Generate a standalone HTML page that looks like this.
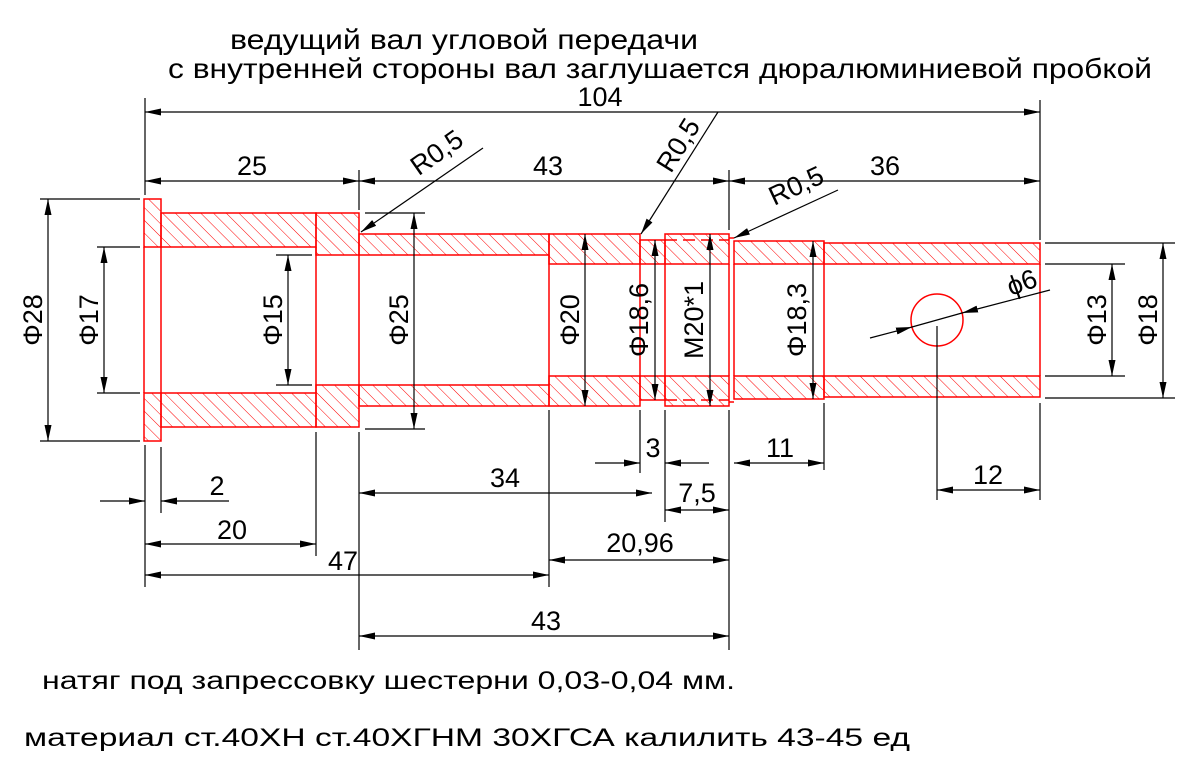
<!DOCTYPE html>
<html><head><meta charset="utf-8"><style>html,body{margin:0;padding:0;background:#fff}svg{display:block}</style></head>
<body>
<svg width="1203" height="763" viewBox="0 0 1203 763" xmlns="http://www.w3.org/2000/svg">
<defs>
<pattern id="h" width="9" height="9" patternUnits="userSpaceOnUse" patternTransform="rotate(-45)">
<line x1="0" y1="0" x2="0" y2="9" stroke="#f00" stroke-width="1"/>
</pattern>
<marker id="a" viewBox="0 0 16 7" refX="16" refY="3.5" markerWidth="16" markerHeight="7" markerUnits="userSpaceOnUse" orient="auto-start-reverse"><path d="M0,0L16,3.5L0,7z" fill="#000"/></marker>
</defs>
<g font-family="Liberation Sans, sans-serif" fill="#000">
<text x="230" y="49" font-size="28" textLength="468" lengthAdjust="spacingAndGlyphs">ведущий вал угловой передачи</text>
<text x="168" y="78" font-size="28" textLength="984" lengthAdjust="spacingAndGlyphs">с внутренней стороны вал заглушается дюралюминиевой пробкой</text>
<text x="42" y="689" font-size="25" textLength="693" lengthAdjust="spacingAndGlyphs">натяг под запрессовку шестерни  0,03-0,04 мм.</text>
<text x="24" y="746" font-size="25" textLength="886" lengthAdjust="spacingAndGlyphs">материал  ст.40ХН  ст.40ХГНМ  30ХГСА  калилить 43-45 ед</text>
</g>
<g stroke="#f00" stroke-width="1.5" fill="url(#h)">
<rect x="144" y="199" width="17" height="48"/><rect x="144" y="393" width="17" height="48"/>
<rect x="161" y="213" width="155" height="34"/><rect x="161" y="393" width="155" height="34"/>
<rect x="316" y="213" width="43" height="42"/><rect x="316" y="385" width="43" height="42"/>
<rect x="359" y="234" width="190" height="21"/><rect x="359" y="385" width="190" height="21"/>
<rect x="549" y="234" width="91" height="30"/><rect x="549" y="376" width="91" height="30"/>
<rect x="640" y="240" width="25" height="24"/><rect x="640" y="376" width="25" height="24"/>
<rect x="665" y="234" width="64" height="30"/><rect x="665" y="376" width="64" height="30"/>
<rect x="734" y="241" width="90" height="23"/><rect x="734" y="376" width="90" height="23"/>
<rect x="824" y="243" width="216" height="21"/><rect x="824" y="376" width="216" height="21"/>
</g>
<g stroke="#f00" stroke-width="1.5" fill="none">
<line x1="144" y1="247" x2="144" y2="393"/><line x1="161" y1="247" x2="161" y2="393"/>
<line x1="316" y1="247" x2="316" y2="393"/><line x1="359" y1="255" x2="359" y2="385"/>
<line x1="549" y1="255" x2="549" y2="385"/><line x1="640" y1="264" x2="640" y2="376"/>
<line x1="665" y1="264" x2="665" y2="376"/><line x1="729" y1="264" x2="729" y2="376"/>
<line x1="734" y1="264" x2="734" y2="376"/><line x1="824" y1="264" x2="824" y2="376"/>
<line x1="1040" y1="264" x2="1040" y2="376"/>
<line x1="729" y1="238" x2="734" y2="238"/><line x1="729" y1="402" x2="734" y2="402"/>
<line x1="665" y1="240" x2="729" y2="240" stroke-dasharray="12,6"/><line x1="665" y1="400" x2="729" y2="400" stroke-dasharray="12,6"/>
<circle cx="937" cy="320" r="26"/>
</g>
<g stroke="#000" stroke-width="1.2">
<line x1="145" y1="98" x2="145" y2="195"/><line x1="1040" y1="100" x2="1040" y2="240"/>
<line x1="359" y1="170" x2="359" y2="210"/><line x1="729" y1="170" x2="729" y2="230"/>
<line x1="40" y1="199" x2="140" y2="199"/><line x1="40" y1="441" x2="140" y2="441"/>
<line x1="97" y1="247" x2="140" y2="247"/><line x1="97" y1="393" x2="140" y2="393"/>
<line x1="276" y1="255" x2="312" y2="255"/><line x1="276" y1="385" x2="312" y2="385"/>
<line x1="365" y1="213" x2="425" y2="213"/><line x1="365" y1="429" x2="425" y2="429"/>
<line x1="1045" y1="264" x2="1125" y2="264"/><line x1="1045" y1="376" x2="1125" y2="376"/>
<line x1="1045" y1="243" x2="1175" y2="243"/><line x1="1045" y1="398" x2="1175" y2="398"/>
<line x1="145" y1="445" x2="145" y2="587"/><line x1="161" y1="447" x2="161" y2="513"/>
<line x1="316" y1="432" x2="316" y2="556"/><line x1="359" y1="432" x2="359" y2="650"/>
<line x1="549" y1="410" x2="549" y2="587"/><line x1="640" y1="410" x2="640" y2="473"/>
<line x1="665" y1="410" x2="665" y2="522"/><line x1="729" y1="410" x2="729" y2="650"/>
<line x1="824" y1="403" x2="824" y2="470"/><line x1="937" y1="326" x2="937" y2="500"/>
<line x1="1040" y1="403" x2="1040" y2="500"/>
</g>
<g stroke="#000" stroke-width="1.2" marker-start="url(#a)" marker-end="url(#a)">
<line x1="145" y1="112" x2="1040" y2="112"/>
<line x1="145" y1="181" x2="359" y2="181"/><line x1="359" y1="181" x2="729" y2="181"/><line x1="729" y1="181" x2="1040" y2="181"/>
<line x1="48" y1="199" x2="48" y2="441"/><line x1="104" y1="247" x2="104" y2="393"/>
<line x1="288" y1="255" x2="288" y2="385"/><line x1="414" y1="213" x2="414" y2="429"/>
<line x1="585" y1="234" x2="585" y2="406"/><line x1="655" y1="240" x2="655" y2="400"/>
<line x1="710" y1="234" x2="710" y2="406"/><line x1="813" y1="241" x2="813" y2="399"/>
<line x1="1112" y1="264" x2="1112" y2="376"/><line x1="1163" y1="243" x2="1163" y2="398"/>
<line x1="145" y1="544" x2="316" y2="544"/><line x1="145" y1="575" x2="549" y2="575"/>
<line x1="359" y1="493" x2="652" y2="493"/><line x1="665" y1="510" x2="729" y2="510"/>
<line x1="549" y1="560" x2="729" y2="560"/><line x1="359" y1="636" x2="729" y2="636"/>
<line x1="734" y1="463" x2="824" y2="463"/><line x1="937" y1="490" x2="1040" y2="490"/>
</g>
<g stroke="#000" stroke-width="1.2" marker-end="url(#a)">
<line x1="100" y1="501" x2="145" y2="501"/><line x1="229" y1="501" x2="161" y2="501"/>
<line x1="595" y1="463" x2="640" y2="463"/><line x1="709" y1="463" x2="665" y2="463"/>
<line x1="483" y1="148" x2="361" y2="232"/><line x1="718" y1="112" x2="641" y2="234"/>
<line x1="838" y1="190" x2="734" y2="238"/>
<line x1="870" y1="338" x2="912" y2="327"/><line x1="1050" y1="290" x2="962" y2="313"/>
</g>
<line x1="912" y1="327" x2="962" y2="313" stroke="#000" stroke-width="1.2"/>
<g font-family="Liberation Sans, sans-serif" font-size="27" fill="#000" text-anchor="middle">
<text x="600" y="106">104</text>
<text x="252" y="175">25</text><text x="548" y="175">43</text><text x="885" y="175">36</text>
<text x="217" y="495">2</text><text x="232" y="539">20</text><text x="343" y="570">47</text>
<text x="505" y="487">34</text><text x="653" y="457">3</text><text x="697" y="502">7,5</text>
<text x="640" y="552">20,96</text><text x="546" y="630">43</text>
<text x="780" y="457">11</text><text x="988" y="484">12</text>
<text transform="translate(42,320) rotate(-90)">Φ28</text>
<text transform="translate(98,320) rotate(-90)">Φ17</text>
<text transform="translate(282,320) rotate(-90)">Φ15</text>
<text transform="translate(408,320) rotate(-90)">Φ25</text>
<text transform="translate(579,320) rotate(-90)">Φ20</text>
<text transform="translate(648,320) rotate(-90)">Φ18,6</text>
<text transform="translate(703,320) rotate(-90)">M20*1</text>
<text transform="translate(806,320) rotate(-90)">Φ18,3</text>
<text transform="translate(1106,320) rotate(-90)">Φ13</text>
<text transform="translate(1157,320) rotate(-90)">Φ18</text>
<text transform="translate(442,160) rotate(-35)">R0,5</text>
<text transform="translate(686,150) rotate(-58)">R0,5</text>
<text transform="translate(800,194) rotate(-25)">R0,5</text>
<text transform="translate(1025,291) rotate(-20)">ϕ6</text>
</g>
</svg>
</body></html>
